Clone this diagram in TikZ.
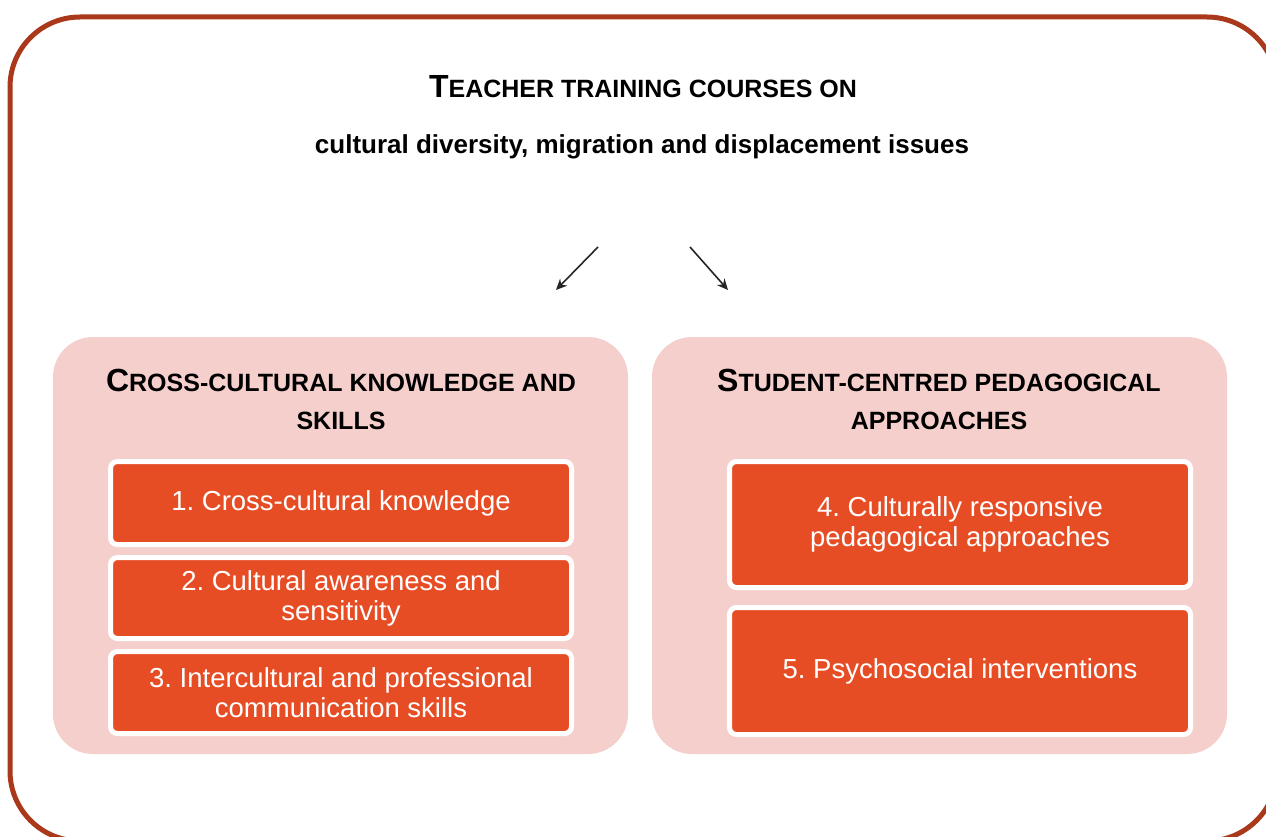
\documentclass[tikz,border=0pt]{standalone}
\usepackage{fontspec}
\setmainfont{Liberation Sans}
\newfontfamily\boxfont{Liberation Sans}
\newfontfamily\headfont{Liberation Sans}
\usetikzlibrary{arrows.meta}
\definecolor{framec}{RGB}{170,56,26}
\definecolor{pinkc}{RGB}{245,207,204}
\definecolor{orangec}{RGB}{231,77,36}
\newcommand\bigc[1]{{\fontsize{32}{38}\selectfont #1}}
\newcommand\smc[1]{{\fontsize{25}{38}\selectfont #1}}
\frenchspacing
\begin{document}
\begin{tikzpicture}[x=1pt,y=-1pt,
  panel/.style={fill=pinkc, rounded corners=40pt, inner sep=0pt},
  item/.style={fill=orangec, draw=white, line width=5pt, rounded corners=7pt,
    text=white, font=\boxfont\fontsize{27.5}{30}\selectfont, align=center,
    inner sep=0pt, minimum width=461pt},
  head/.style={font=\headfont\bfseries\fontsize{25}{38}\selectfont, align=center, inner sep=0pt},
  arr/.style={-{Stealth[length=11pt,width=10pt]}, line width=1.6pt, black!85}]
\useasboundingbox (0,0) rectangle (1266,837);
\begin{scope}
  \clip (0,0) rectangle (1266,837);
  \draw[framec, line width=5pt, rounded corners=70pt] (10,17) rectangle (1277,841);
\end{scope}

\node[head, anchor=base] (title) at (643,98)
  {\bigc{T}\smc{EACHER TRAINING COURSES ON}};
\node[font=\bfseries\fontsize{26}{30}\selectfont, anchor=base, inner sep=0pt] (sub) at (642,154)
  {cultural diversity, migration and displacement issues};

\coordinate (a1s) at (598,247);
\coordinate (a1e) at (556,290);
\coordinate (a2s) at (690,247);
\coordinate (a2e) at (728,290);
\draw[arr] (a1s) -- (a1e);
\draw[arr] (a2s) -- (a2e);

\node[panel, minimum width=575pt, minimum height=417pt] (pl) at (340.5,545.5) {};
\node[panel, minimum width=575pt, minimum height=417pt] (pr) at (939.5,545.5) {};

\node[head] (hl) at (341,399)
  {\bigc{C}\smc{ROSS-CULTURAL KNOWLEDGE AND}\\\smc{SKILLS}};
\node[head] (hr) at (939,399)
  {\bigc{S}\smc{TUDENT-CENTRED PEDAGOGICAL}\\\smc{APPROACHES}};

\node[item, minimum height=83pt] (i1) at (341,503) {\raisebox{-2pt}{1. Cross-cultural knowledge}};
\node[item, minimum height=81pt] (i2) at (341,598) {2. Cultural awareness and\\sensitivity};
\node[item, minimum height=82pt] (i3) at (341,692.5) {3. Intercultural and professional\\communication skills};

\node[item, minimum height=126pt] (i4) at (960,524.5) {4. Culturally responsive\\pedagogical approaches};
\node[item, minimum height=127pt] (i5) at (960,671) {\raisebox{-2pt}{5. Psychosocial interventions}};
\end{tikzpicture}
\end{document}
